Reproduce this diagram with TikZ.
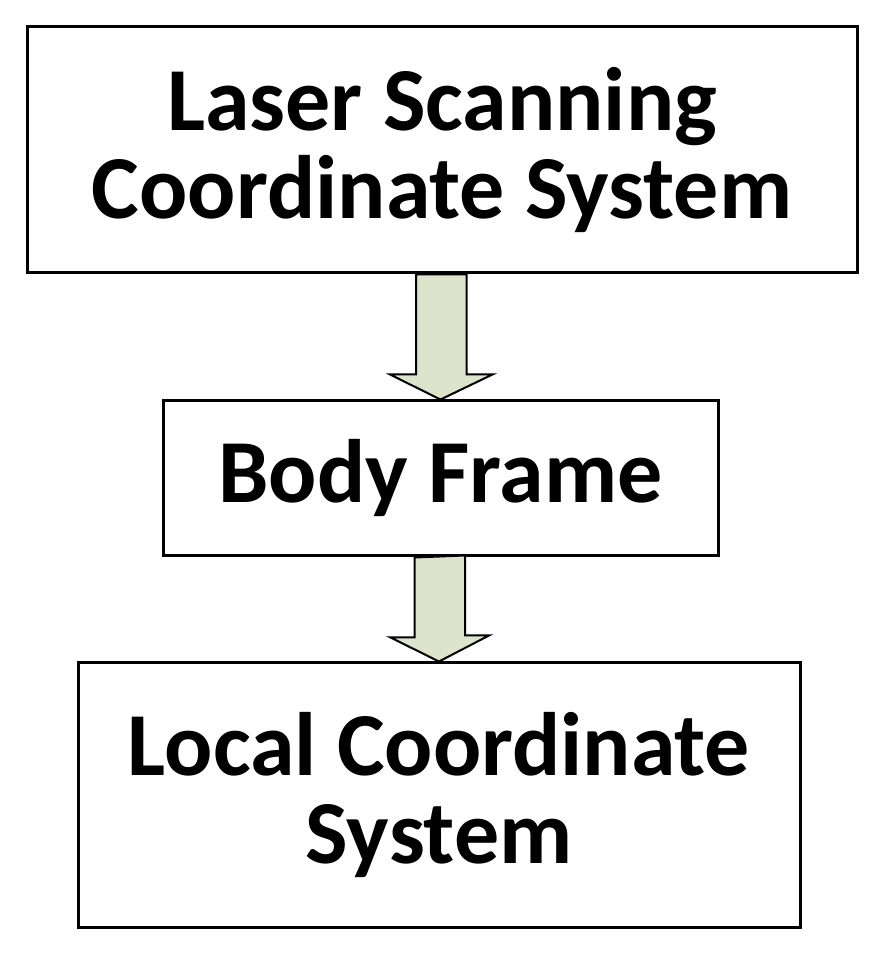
\documentclass[tikz,border=0pt]{standalone}
\usepackage{fontspec}
\setmainfont{Carlito}
\usetikzlibrary{positioning}
\definecolor{arrowfill}{HTML}{DDE4CC}
\tikzset{
  frame/.style={draw, line width=3pt, align=center, font=\fontsize{90}{88}\selectfont\bfseries},
  flow/.style={draw, line width=2pt, fill=arrowfill}
}
\begin{document}
\begin{tikzpicture}[x=1pt, y=1pt]
  \useasboundingbox (0,0) rectangle (888,960);
  % Rahmen
  \node[frame, minimum width=830pt, minimum height=246pt] (laser) at (442,810) {Laser Scanning\\Coordinate System};
  \node[frame, minimum width=555pt, minimum height=155pt] (body) at (440.5,481.5) {Body Frame};
  \node[frame, minimum width=722pt, minimum height=265pt] (local) at (439,164.5) {Local Coordinate\\System};

  % Blockpfeile
  \draw[flow] (laser.south) ++(-26,0) -- ++(0,-100) -- ++(-26,0) -- (body.north) -- ++(52,25) -- ++(-26,0) -- ++(0,100) -- cycle;
  \draw[flow] (body.south) ++(-26,0) -- ++(0,-80) -- ++(-24,0) -- (local.north) -- ++(50,26) -- ++(-24,0) -- ++(0,80) -- cycle;
\end{tikzpicture}
\end{document}
